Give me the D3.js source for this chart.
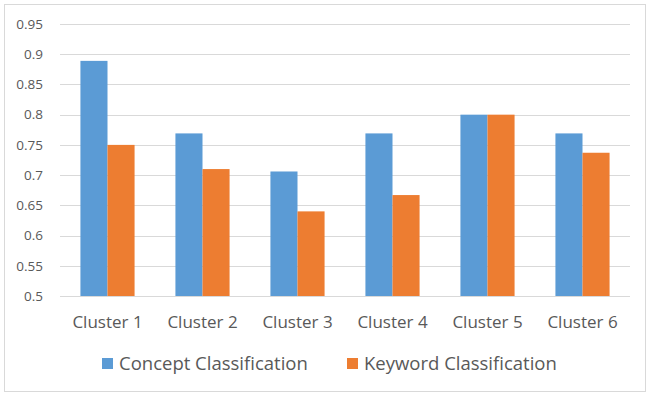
<!DOCTYPE html>
<html>
<head>
<meta charset="utf-8">
<script src="https://cdn.jsdelivr.net/npm/d3@7"></script>
<style>
  body { margin: 0; background: #fff; }
  text { font-family: "Open Sans", "Noto Sans", sans-serif; fill: #595959; }
</style>
</head>
<body>
<div id="chart"></div>
<script>
// chart data
const clusters = ['Cluster 1', 'Cluster 2', 'Cluster 3', 'Cluster 4', 'Cluster 5', 'Cluster 6'];
const concept = [0.889, 0.769, 0.706, 0.769, 0.8, 0.769];
const keyword = [0.75, 0.71, 0.64, 0.667, 0.8, 0.737];
const yTicks = [0.5, 0.55, 0.6, 0.65, 0.7, 0.75, 0.8, 0.85, 0.9, 0.95];
const seriesNames = ['Concept Classification', 'Keyword Classification'];
const colors = ['#5b9bd5', '#ed7d31'];

const width = 653, height = 397;
const margin = { top: 24, right: 23, bottom: 101, left: 60 };

const svg = d3.select('#chart').append('svg')
    .attr('width', width)
    .attr('height', height);

// outer frame
svg.append('rect')
    .attr('x', 4.5).attr('y', 4.5)
    .attr('width', 641).attr('height', 387)
    .attr('fill', '#fff')
    .attr('stroke', '#d9d9d9');

const x = d3.scaleBand()
    .domain(clusters)
    .range([margin.left, width - margin.right])
    .paddingInner(0.43)
    .paddingOuter(0.215);

const x1 = d3.scaleBand()
    .domain(seriesNames)
    .range([0, x.bandwidth()]);

const y = d3.scaleLinear()
    .domain([0.5, 0.95])
    .range([height - margin.bottom, margin.top]);

// gridlines
svg.append('g')
    .selectAll('line')
    .data(yTicks)
    .join('line')
    .attr('x1', margin.left)
    .attr('x2', width - margin.right)
    .attr('y1', d => Math.round(y(d)) + 0.5)
    .attr('y2', d => Math.round(y(d)) + 0.5)
    .attr('stroke', '#d9d9d9');

// y labels
svg.append('g')
    .selectAll('text')
    .data(yTicks)
    .join('text')
    .attr('x', 43)
    .attr('y', d => y(d))
    .attr('dy', '0.35em')
    .attr('text-anchor', 'end')
    .attr('font-size', 13.5)
    .text(d => d);

// bars
const groups = svg.append('g')
    .selectAll('g')
    .data(clusters)
    .join('g')
    .attr('transform', d => `translate(${x(d)},0)`);

groups.selectAll('rect')
    .data((d, i) => [concept[i], keyword[i]].map((v, j) => ({ key: seriesNames[j], value: v })))
    .join('rect')
    .attr('x', d => x1(d.key))
    .attr('width', x1.bandwidth())
    .attr('y', d => y(d.value))
    .attr('height', d => y(0.5) - y(d.value))
    .attr('fill', (d, j) => colors[j]);

// category labels
svg.append('g')
    .selectAll('text')
    .data(clusters)
    .join('text')
    .attr('x', d => x(d) + x.bandwidth() / 2)
    .attr('y', 328)
    .attr('text-anchor', 'middle')
    .attr('font-size', 17)
    .text(d => d);

// legend
const legendX = [102, 347];
const legend = svg.append('g')
    .selectAll('g')
    .data(seriesNames)
    .join('g')
    .attr('transform', (d, i) => `translate(${legendX[i]},358)`);

legend.append('rect')
    .attr('width', 11).attr('height', 11)
    .attr('fill', (d, i) => colors[i]);

legend.append('text')
    .attr('x', 17)
    .attr('y', 5.5)
    .attr('dy', '0.35em')
    .attr('font-size', 18.5)
    .text(d => d);
</script>
</body>
</html>
